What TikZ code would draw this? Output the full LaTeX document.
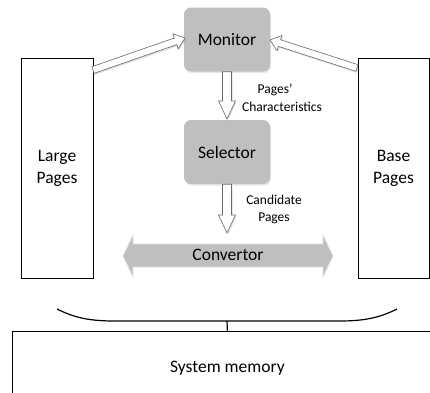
\documentclass[tikz,border=0pt]{standalone}
\usepackage{fontspec}
\setmainfont{Carlito}
\usetikzlibrary{calc,shadows}
\definecolor{boxgray}{RGB}{191,191,191}
\definecolor{edgegray}{RGB}{105,105,105}
\definecolor{convedge}{RGB}{225,225,225}
\newcommand\blockarr[5]{%
  \coordinate (hb) at ($(#2)!#5!(#1)$);
  \path[harrow] ($(#1)!#3!90:(#2)$) -- ($(hb)!#3!-90:(#1)$) -- ($(hb)!#4!-90:(#1)$)
    -- (#2) -- ($(hb)!#4!90:(#1)$) -- ($(hb)!#3!90:(#1)$) -- ($(#1)!#3!-90:(#2)$) -- cycle;
}
\begin{document}
\begin{tikzpicture}[x=1pt,y=-1pt,
  proc/.style={rounded corners=7pt, fill=boxgray, minimum width=86pt, minimum height=64pt,
    inner sep=0pt, font=\fontsize{17.5}{21}\selectfont,
    drop shadow={shadow xshift=1pt,shadow yshift=-1.5pt,opacity=0.2}},
  pagebox/.style={draw=black, line width=0.8pt, minimum width=72pt, minimum height=220pt,
    inner sep=0pt, align=center, font=\fontsize{17.5}{22}\selectfont},
  lbl/.style={align=center, font=\fontsize{13.5}{17.5}\selectfont, inner sep=0pt},
  harrow/.style={fill=white, draw=edgegray, line width=0.6pt, line join=miter,
    drop shadow={shadow xshift=1pt,shadow yshift=-1.5pt,opacity=0.25}},
  brace/.style={line width=1.2pt}
]
\useasboundingbox (0,0) rectangle (430,392);
\clip (0,0) rectangle (430,392);

% page boxes
\node[pagebox] (large) at (57,168) {Large\\Pages};
\node[pagebox, minimum width=71pt] (base) at (393.5,168) {Base\\Pages};

% process boxes
\node[proc] (mon) at (227,39.5) {Monitor};
\node[proc] (sel) at (227,152) {Selector};

% convertor double arrow
\path[fill=boxgray, draw=convedge, line width=0.8pt]
  (123,256) -- (133,235) -- (133,244) -- (323,244) -- (323,235) -- (333,256)
  -- (323,277) -- (323,267) -- (133,267) -- (133,277) -- cycle;
\node[inner sep=0pt, font=\fontsize{17.5}{21}\selectfont] (conv) at (228,255) {Convertor};

% connector end points
\coordinate (lpout) at (93,70);
\coordinate (monL) at (185,38);
\coordinate (bpout) at (357,68);
\coordinate (monR) at (270,40);
\coordinate (selin) at (227,119);
\coordinate (convin) at (227,233);

% hollow block arrows
\blockarr{lpout}{monL}{3.5pt}{8pt}{10pt}
\blockarr{bpout}{monR}{3.5pt}{8pt}{10pt}
\blockarr{mon.south}{selin}{4.5pt}{8.5pt}{18pt}
\blockarr{sel.south}{convin}{4.5pt}{8.5pt}{18pt}

% labels
\node[lbl] (l1) at (282,98) {Pages’\hspace*{14pt}\\Characteristics};
\node[lbl] (l2) at (274,209.5) {Candidate\\Pages};

% system memory
\node[draw=black, line width=0.8pt, minimum width=430pt, minimum height=73pt, inner sep=0pt,
  anchor=north west, font=\fontsize{17.5}{21}\selectfont] (sys) at (12,331) {System memory};

% brace
\draw[brace] (57,309) .. controls (75,318) and (90,321) .. (115,321) -- (339,321)
  .. controls (364,321) and (379,318) .. (397,309);
\coordinate (bmid) at (227,321);
\draw[brace] (bmid) -- (sys.north);
\end{tikzpicture}
\end{document}
